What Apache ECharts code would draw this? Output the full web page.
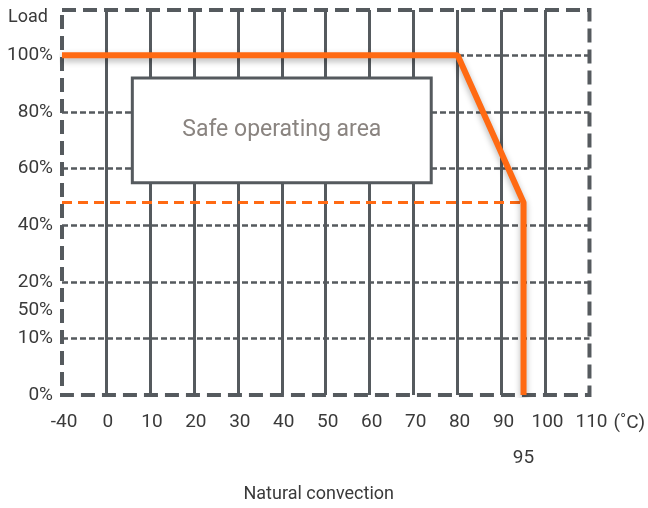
<!DOCTYPE html>
<html>
<head>
<meta charset="utf-8">
<script src="https://cdn.jsdelivr.net/npm/echarts@6/dist/echarts.min.js"></script>
<style>
  html, body { margin: 0; padding: 0; background: #fff; }
  #chart { width: 648px; height: 508px; }
</style>
</head>
<body>
<div id="chart"></div>
<script>
// derating curve (temperature in °C, load in %)
const derateTemp = [-40, 80, 95, 95];
const derateLoad = [100, 100, 48, 0];
// dashed limit line
const limitTemp = [-40, 95];
const limitLoad = [48, 48];
// y axis levels, evenly spaced on the drawing
const loadTicks = [0, 10, 20, 40, 60, 80, 100];
const extraLoadLabel = '50%';
const secondRowTemp = 95;
// safe operating area box
const safeTemp = [6, 74];
const safeLoad = [55, 92];

const orange = '#ff6a13';
const grey = '#555a5e';
const textColor = '#3a3a3a';
const font = 'Roboto';

// -40 sits one step left of 0 (axis is broken there)
function toX(t) { return t < 0 ? t / 4 : t; }
// piecewise mapping of load % onto evenly spaced levels
function toLevel(p) {
    for (let i = 1; i < loadTicks.length; i++) {
        if (p <= loadTicks[i]) {
            return i - 1 + (p - loadTicks[i - 1]) / (loadTicks[i] - loadTicks[i - 1]);
        }
    }
    return loadTicks.length - 1;
}

let myChart = echarts.init(document.getElementById('chart'));
let options = {
    animation: false,
    grid: {
        left: 62,
        right: 56,
        top: 10,
        bottom: 113,
        show: true,
        borderColor: grey,
        borderWidth: 4,
        borderType: [14, 7]
    },
    xAxis: [
        {
            type: 'value',
            min: -10,
            max: 110,
            interval: 10,
            axisLine: {show: false},
            axisTick: {show: false},
            axisLabel: {
                margin: 18,
                fontSize: 19,
                fontFamily: font,
                color: textColor,
                padding: [0, 0, 0, 4],
                formatter: v => v === -10 ? '-40' : String(v)
            },
            splitLine: {
                show: true,
                showMinLine: false,
                showMaxLine: false,
                lineStyle: {color: grey, width: 3, type: 'solid'}
            },
            name: '(˚C)',
            nameLocation: 'end',
            nameGap: 20,
            nameTextStyle: {
                fontSize: 19,
                fontFamily: font,
                color: textColor,
                verticalAlign: 'top',
                padding: [19, 0, 0, 0]
            }
        },
        {
            type: 'value',
            min: -10,
            max: 110,
            interval: 5,
            position: 'bottom',
            offset: 36,
            axisLine: {show: false},
            axisTick: {show: false},
            splitLine: {show: false},
            axisLabel: {
                margin: 18,
                fontSize: 19,
                fontFamily: font,
                color: textColor,
                formatter: v => v === secondRowTemp ? String(v) : ''
            },
            name: 'Natural convection',
            nameLocation: 'middle',
            nameGap: 54,
            nameTextStyle: {
                fontSize: 18,
                fontFamily: font,
                color: textColor,
                padding: [0, 14, 0, 0]
            }
        }
    ],
    yAxis: [
        {
            type: 'value',
            min: 0,
            max: 6.8,
            interval: 1,
            axisLine: {show: false},
            axisTick: {show: false},
            axisLabel: {
                margin: 9,
                fontSize: 19,
                fontFamily: font,
                color: textColor,
                formatter: v => Number.isInteger(v) && loadTicks[v] !== undefined ? loadTicks[v] + '%' : ''
            },
            splitLine: {
                show: true,
                showMinLine: false,
                showMaxLine: false,
                lineStyle: {color: grey, width: 2.5, type: [6, 3]}
            },
            name: 'Load',
            nameLocation: 'end',
            nameGap: -7,
            nameTextStyle: {
                fontSize: 18,
                fontFamily: font,
                color: textColor,
                align: 'right',
                verticalAlign: 'middle',
                padding: [0, 58, 0, 0]
            }
        },
        {
            type: 'value',
            min: 0,
            max: 6.8,
            interval: 0.5,
            position: 'left',
            axisLine: {show: false},
            axisTick: {show: false},
            splitLine: {show: false},
            axisLabel: {
                margin: 9,
                fontSize: 19,
                fontFamily: font,
                color: textColor,
                formatter: v => v === 1.5 ? extraLoadLabel : ''
            }
        }
    ],
    series: [
        {
            type: 'line',
            symbol: 'none',
            data: limitTemp.map((t, i) => [toX(t), toLevel(limitLoad[i])]),
            lineStyle: {color: orange, width: 3, type: [10, 6]},
            z: 3
        },
        {
            type: 'line',
            symbol: 'none',
            data: derateTemp.map((t, i) => [toX(t), toLevel(derateLoad[i])]),
            lineStyle: {
                color: orange,
                width: 6,
                shadowColor: 'rgba(0,0,0,0.3)',
                shadowBlur: 6,
                shadowOffsetY: 3
            },
            z: 4,
            markArea: {
                silent: true,
                itemStyle: {color: '#fff', borderColor: grey, borderWidth: 3},
                label: {
                    show: true,
                    position: 'inside',
                    fontSize: 23,
                    fontFamily: font,
                    color: '#8a8480'
                },
                data: [[
                    {name: 'Safe operating area', coord: [toX(safeTemp[0]), toLevel(safeLoad[1])]},
                    {coord: [toX(safeTemp[1]), toLevel(safeLoad[0])]}
                ]]
            }
        }
    ]
};
myChart.setOption(options);
</script>
</body>
</html>
